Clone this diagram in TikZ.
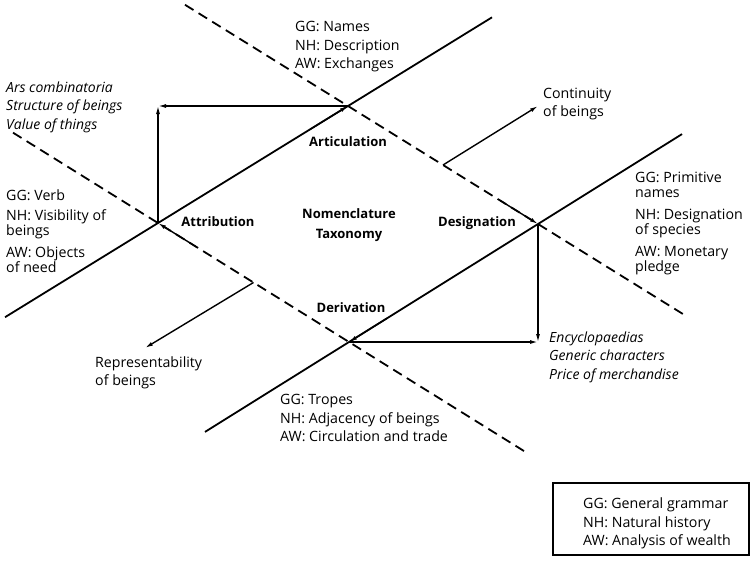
\documentclass[tikz,border=0pt]{standalone}
\usepackage{fontspec}
\setmainfont{Open Sans}
\usetikzlibrary{calc,arrows.meta}
\begin{document}
\begin{tikzpicture}[x=1pt,y=-1pt,
  every node/.style={inner sep=0pt,font=\fontsize{14.2}{18.5}\selectfont},
  solidline/.style={line width=1.8pt},
  dashline/.style={line width=1.8pt,dash pattern=on 10pt off 6pt},
  arr/.style={line width=1.4pt,-{Latex[length=8pt,width=4pt]}},
  tip/.style={line width=1.4pt,-{Latex[length=8pt,width=4pt]}},
  blk/.style={anchor=north west,align=left},
  blk16/.style={anchor=north west,align=left,font=\fontsize{14.2}{15.5}\selectfont},
  lbl/.style={font=\fontsize{13}{18}\selectfont\bfseries},
  itl/.style={anchor=north west,align=left,font=\fontsize{14}{18.5}\selectfont\itshape}]
\useasboundingbox (0,0) rectangle (751,560);
% intersection points
\coordinate (A) at (158,223);
\coordinate (B) at (348,106);
\coordinate (C) at (538,224);
\coordinate (D) at (349,342);
\coordinate (P1) at (158,106);
\coordinate (P2) at (538,342);
% long lines
\draw[solidline] ($(A)!-0.805!(B)$) -- ($(A)!1.758!(B)$);
\draw[solidline] ($(D)!-0.762!(C)$) -- ($(D)!1.762!(C)$);
\draw[dashline] ($(B)!-0.858!(C)$) -- ($(B)!1.763!(C)$);
\draw[dashline] ($(A)!-0.759!(D)$) -- ($(A)!1.93!(D)$);
% arrowheads along the quadrilateral
\draw[tip] ($(A)!0.8!(B)$) -- (B);
\draw[tip] ($(B)!0.8!(C)$) -- (C);
\draw[tip] ($(C)!0.8!(D)$) -- (D);
\draw[tip] ($(D)!0.8!(A)$) -- (A);
% corner arrows
\draw[arr] (B) -- (P1);
\draw[arr,line width=1.2pt] (A) -- (P1);
\draw[arr] (D) -- (P2);
\draw[arr,line width=1.2pt] (C) -- (P2);
% outward arrows
\coordinate (E1) at ($(B)!0.5!(C)$);
\coordinate (E2) at ($(A)!0.5!(D)$);
\coordinate (F1) at (538,106);
\coordinate (F2) at (145,348);
\draw[arr] (E1) -- (F1);
\draw[arr] (E2) -- (F2);
% bold labels
\node[lbl] (art) at (348,142) {Articulation};
\node[lbl] (att) at (218,222) {Attribution};
\node[lbl] (nom) at (349,214) {Nomenclature};
\node[lbl] (tax) at (349,235) {Taxonomy};
\node[lbl] (des) at (477,223) {Designation};
\node[lbl] (der) at (351,308) {Derivation};
% text blocks
\node[blk] (names) at (295,21.5) {GG: Names\\NH: Description\\AW: Exchanges};
\node[itl] (ars) at (6,81.5) {Ars combinatoria\\Structure of beings\\Value of things};
\node[blk16] (verb) at (6,189.5) {GG: Verb\\[4.5pt]NH: Visibility of\\beings\\[6pt]AW: Objects\\of need};
\node[blk16] (prim) at (635,171.5) {GG: Primitive\\names\\[6pt]NH: Designation\\of species\\[6pt]AW: Monetary\\pledge};
\node[blk] (cont) at (543,87.5) {Continuity\\of beings};
\node[blk] (repr) at (95,356.5) {Representability\\of beings};
\node[itl] (enc) at (549,331.5) {Encyclopaedias\\Generic characters\\Price of merchandise};
\node[blk] (trop) at (280,394.5) {GG: Tropes\\NH: Adjacency of beings\\AW: Circulation and trade};
% legend
\draw[line width=1.3pt] (553,483) rectangle (749,555);
\node[blk] (leg) at (583,497.5) {GG: General grammar\\NH: Natural history\\AW: Analysis of wealth};
\end{tikzpicture}
\end{document}
